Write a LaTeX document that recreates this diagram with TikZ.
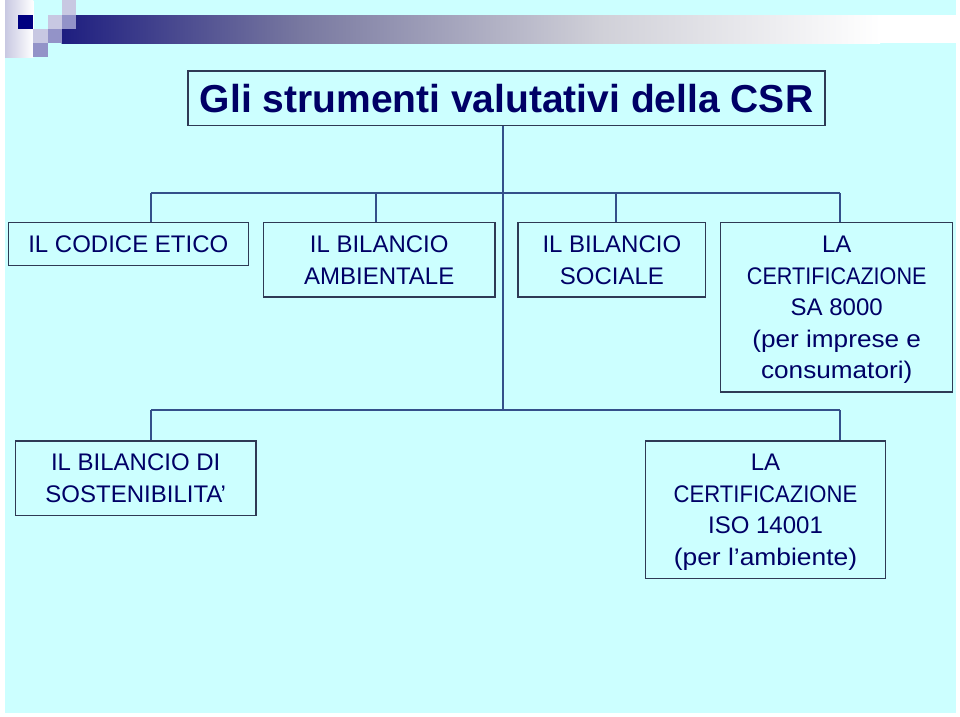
\documentclass[tikz,border=0pt]{standalone}
\usepackage{fontspec}
\setmainfont{Liberation Sans}
\definecolor{bg}{HTML}{CCFFFF}
\definecolor{navytext}{HTML}{000066}
\definecolor{connc}{HTML}{34508A}
\definecolor{borderc}{HTML}{2E3A55}
\definecolor{lav}{HTML}{C8C8E2}
\definecolor{lavmid}{HTML}{9393C8}
\definecolor{barnavy}{HTML}{1E1E80}
\definecolor{barmid}{HTML}{7878A0}
\definecolor{barlight}{HTML}{D0D0D8}
\definecolor{sqnavy}{HTML}{000080}
\begin{document}
\begin{tikzpicture}[x=1pt,y=-1pt,
  box/.style={draw=borderc,line width=1.2pt,fill=bg,text=navytext,align=center,inner sep=0pt,
    font=\fontsize{24}{32}\selectfont},
  connline/.style={draw=connc,line width=1.6pt}]
\useasboundingbox (0,0) rectangle (960,716);
\fill[white] (0,0) rectangle (960,716);
\fill[bg] (5,0) rectangle (956,713);
% decoration
\shade[left color=lav,right color=white] (5,0) rectangle (33.3,57.3);
\shade[left color=barnavy,right color=barmid] (61.7,15) rectangle (300,43);
\shade[left color=barmid,right color=barlight] (299.5,15) rectangle (600,43);
\shade[left color=barlight,right color=white] (599.5,15) rectangle (880,43);
\fill[white] (879.5,15) rectangle (956,43);
\fill[sqnavy] (18.3,15) rectangle (33.3,29.3);
\fill[lav] (61.7,0) rectangle (76,15);
\fill[lav] (47.7,15) rectangle (61.7,29.3);
\fill[lavmid] (61.7,15) rectangle (76,29.3);
\fill[lav] (33.3,29.3) rectangle (47.7,43.3);
\fill[lavmid] (47.7,29.3) rectangle (61.7,43.3);
\fill[lavmid] (33.3,43.3) rectangle (47.7,57.3);
% nodes
\node[box,minimum width=637pt,minimum height=54.5pt,font=\bfseries\fontsize{39}{39}\selectfont] (title) at (506.5,98.25) {Gli strumenti valutativi della CSR};
\node[box,minimum width=240pt,minimum height=42.6pt] (etico) at (128.3,244) {IL CODICE ETICO};
\node[box,minimum width=231.7pt,minimum height=74.3pt] (amb) at (379.2,259.9) {IL BILANCIO\\AMBIENTALE};
\node[box,minimum width=187.7pt,minimum height=74.3pt] (soc) at (611.9,259.9) {IL BILANCIO\\SOCIALE};
\node[box,minimum width=232pt,minimum height=169.3pt,text depth=0pt,font=\fontsize{24}{31.5}\selectfont] (sa) at (836.7,307.4) {LA\\\scalebox{0.9}[1]{CERTIFICAZIONE}\\SA 8000\\\scalebox{1.09}[1]{(per imprese e}\\\scalebox{1.09}[1]{consumatori)}};
\node[box,minimum width=240.7pt,minimum height=74.3pt] (sost) at (135.7,478.2) {IL BILANCIO DI\\SOSTENIBILITA’};
\node[box,minimum width=240pt,minimum height=137.7pt,text depth=0pt,font=\fontsize{24}{31.5}\selectfont] (iso) at (765.5,509.9) {LA\\\scalebox{0.92}[1]{CERTIFICAZIONE}\\ISO 14001\\\scalebox{1.1}[1]{(per l’ambiente)}};
% connectors
\coordinate (hl) at (151,193);
\coordinate (hr) at (840,193);
\coordinate (trunk) at (503,193);
\coordinate (trunkend) at (503,410);
\coordinate (ll) at (151,410);
\coordinate (lr) at (840,410);
\coordinate (d2) at (375.7,193);
\coordinate (d3) at (615.7,193);
\draw[connline] (title.south -| trunk) -- (trunkend);
\draw[connline] (hl) -- (hr);
\draw[connline] (hl) -- (etico.north -| hl);
\draw[connline] (d2) -- (amb.north -| d2);
\draw[connline] (d3) -- (soc.north -| d3);
\draw[connline] (hr) -- (sa.north -| hr);
\draw[connline] (ll) -- (lr);
\draw[connline] (ll) -- (sost.north -| ll);
\draw[connline] (lr) -- (iso.north -| lr);
\end{tikzpicture}
\end{document}
